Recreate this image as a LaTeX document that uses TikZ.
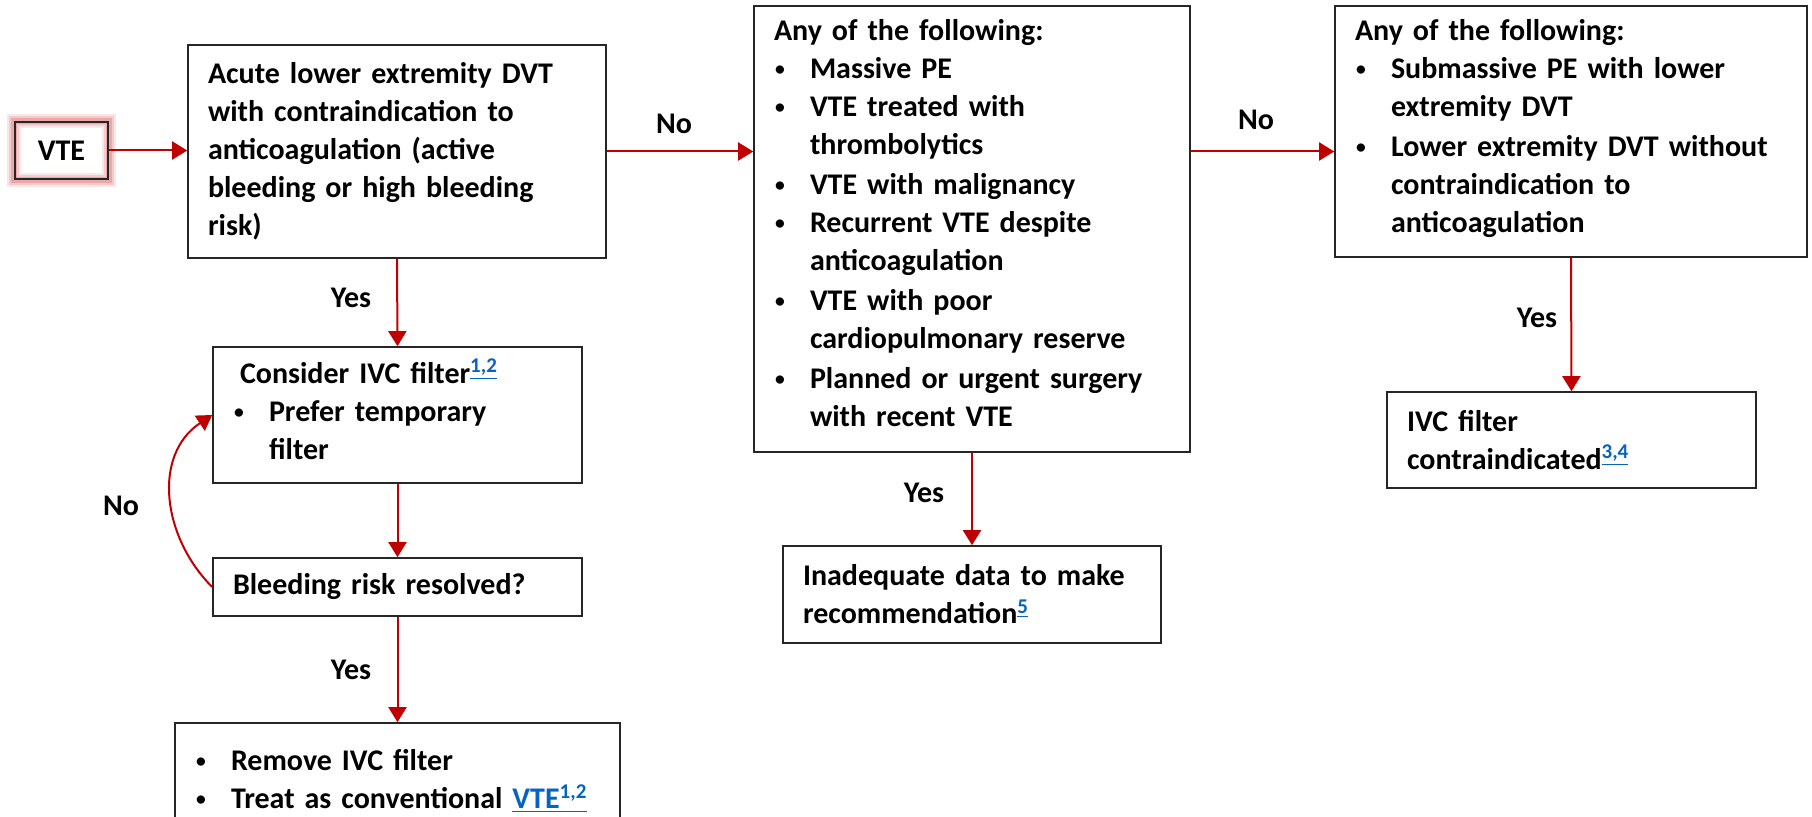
\documentclass[tikz,border=0pt]{standalone}
\usepackage{graphicx}
\usepackage{fontspec}
\setmainfont{Carlito}
\usetikzlibrary{arrows.meta, backgrounds}

\definecolor{arrred}{HTML}{C00000}
\definecolor{linkblue}{HTML}{0563C1}
\definecolor{boxline}{HTML}{262626}
\definecolor{glowred}{HTML}{D95A5A}

% bullet line, no wrapping
\newcommand\itm[1]{\par\noindent\makebox[18pt][l]{\hspace{0.5pt}\raisebox{1.5pt}{\scalebox{0.65}{\textbullet}}}\begin{tabular}[t]{@{}l@{}}#1\end{tabular}}
\newcommand\refs[1]{\textsuperscript{\textcolor{linkblue}{\underline{#1}}}}

\tikzset{
  box/.style={draw=boxline, line width=0.8pt, align=left, inner xsep=10pt, inner ysep=0pt,
    font=\fontsize{15}{19}\selectfont\bfseries},
  arr/.style={draw=arrred, line width=1pt, -{Triangle[length=7.5pt,width=9pt]}},
  lbl/.style={font=\fontsize{15}{19}\selectfont\bfseries}
}

\begin{document}
\begin{tikzpicture}[x=0.5pt, y=-0.5pt]
\useasboundingbox (0,0) rectangle (1812,817);

\node[box, line width=1.3pt, align=center, inner xsep=0pt, minimum width=46.5pt, minimum height=28.5pt] (vte) at (61.5,150.5) {VTE};
\begin{scope}[on background layer]
\foreach \w/\o in {7/0.15, 5/0.2, 3/0.3}
  \draw[glowred, line width=\w pt, opacity=\o] (vte.south west) rectangle (vte.north east);
\end{scope}

\node[box, text width=189pt, minimum height=106.5pt] (acute) at (397,151.5)
  {Acute lower extremity DVT\\with contraindication to\\anticoagulation (active\\bleeding or high bleeding\\risk)};
\node[box, text width=164.5pt, minimum height=68pt] (ivc) at (397.5,415)
  {\hspace*{3.5pt}Consider IVC filter\refs{1,2}\itm{Prefer temporary\\filter}};
\node[box, text width=164.5pt, minimum height=29pt] (bleed) at (397.5,587)
  {Bleeding risk resolved?};
\node[box, text width=202.5pt, minimum height=53.5pt] (remove) at (397.5,776.5)
  {\itm{Remove IVC filter}\itm{Treat as conventional \textcolor{linkblue}{\underline{VTE\textsuperscript{1,2}}}}};

\node[box, text width=198pt, minimum height=223pt] (anyone) at (972,229)
  {Any of the following:\itm{Massive PE}\itm{VTE treated with\\thrombolytics}\itm{VTE with malignancy}%
   \itm{Recurrent VTE despite\\anticoagulation}\itm{VTE with poor\\cardiopulmonary reserve}%
   \itm{Planned or urgent surgery\\with recent VTE}};
\node[box, text width=169pt, minimum height=48.5pt] (inadeq) at (972,594.5)
  {Inadequate data to make\\recommendation\refs{5}};

\node[box, text width=216pt, minimum height=125.5pt] (anytwo) at (1571,131.5)
  {Any of the following:\itm{Submassive PE with lower\\extremity DVT}\itm{Lower extremity DVT without\\contraindication to\\anticoagulation}};
\node[box, text width=164.5pt, minimum height=48pt] (contra) at (1571.5,440)
  {IVC filter\\contraindicated\refs{3,4}};

% connectors
\draw[arr] (vte.east) -- (vte.east -| acute.west);
\draw[arr] (acute.east) -- (acute.east -| anyone.west);
\draw[arr] (acute.east -| anyone.east) -- (acute.east -| anytwo.west);
\draw[arr] (acute.south) -- (ivc.north);
\draw[arr] (ivc.south) -- (bleed.north);
\draw[arr] (bleed.south) -- (remove.north);
\draw[arr] (bleed.west) .. controls +(-50,-50) and +(-60,40) .. (ivc.west);
\draw[arr] (anyone.south) -- (inadeq.north);
\draw[arr] (anytwo.south) -- (contra.north);

\node[lbl] (noone) at (674,124) {No};
\node[lbl] (notwo) at (1256,120) {No};
\node[lbl] (yesone) at (351,298) {Yes};
\node[lbl] (noloop) at (121,506) {No};
\node[lbl] (yestwo) at (351,670) {Yes};
\node[lbl] (yesthree) at (924,493) {Yes};
\node[lbl] (yesfour) at (1537,318) {Yes};
\end{tikzpicture}
\end{document}
